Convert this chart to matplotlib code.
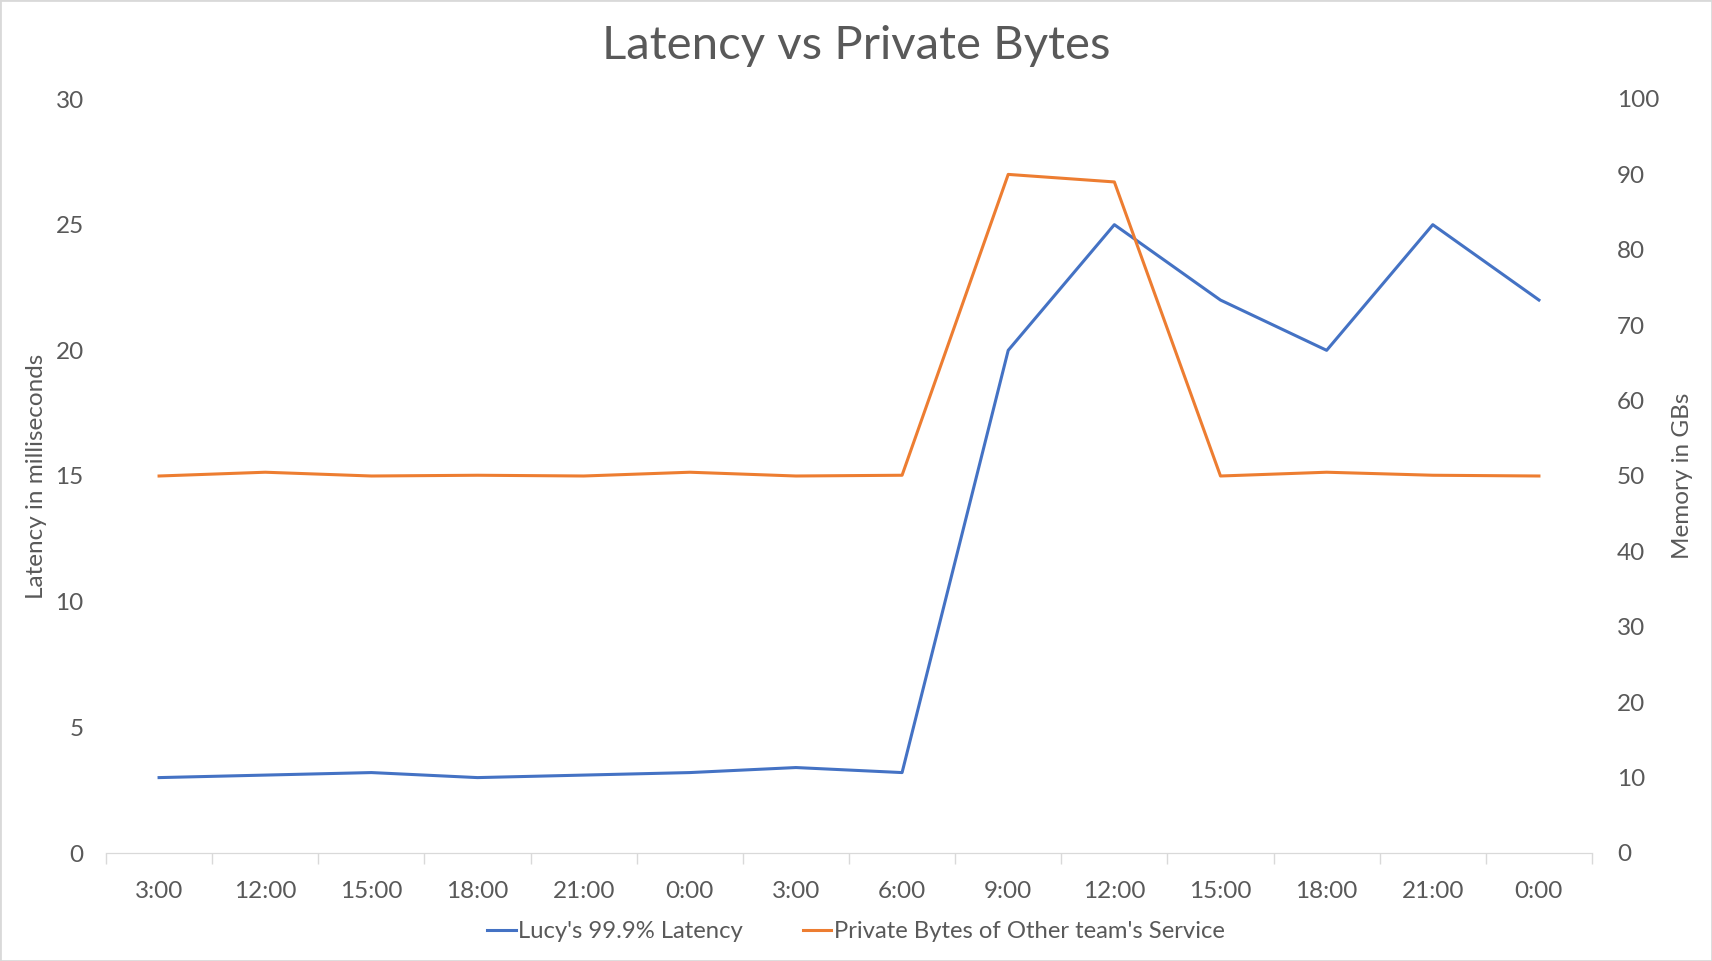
import matplotlib.pyplot as plt
import numpy as np

plt.rcParams['font.family'] = ['Lato', 'DejaVu Sans']

# Data
times = ["3:00", "12:00", "15:00", "18:00", "21:00", "0:00", "3:00",
         "6:00", "9:00", "12:00", "15:00", "18:00", "21:00", "0:00"]
latency = [3.0, 3.1, 3.2, 3.0, 3.1, 3.2, 3.4, 3.2, 20, 25, 22, 20, 25, 22]
memory = [50, 50.5, 50, 50.1, 50, 50.5, 50, 50.1, 90, 89, 50, 50.5, 50.1, 50]

blue = "#4472C4"
orange = "#ED7D31"
text_col = "#595959"
axis_col = "#D9D9D9"

fig = plt.figure(figsize=(17.12, 9.61), dpi=100)
ax = fig.add_axes([106 / 1712, 1 - 853 / 961, (1592 - 106) / 1712, (853 - 99) / 961])
ax2 = ax.twinx()

x = np.arange(len(times))
ax.plot(x, latency, color=blue, lw=2.2, label="Lucy's 99.9% Latency")
ax2.plot(x, memory, color=orange, lw=2.2, label="Private Bytes of Other team's Service")

ax.set_xlim(-0.5, len(times) - 0.5)
ax.set_ylim(0, 30)
ax2.set_ylim(0, 100)
ax.set_yticks(np.arange(0, 31, 5))
ax2.set_yticks(np.arange(0, 101, 10))

ax.set_xticks(x)
ax.set_xticklabels(times)
ax.set_xticks(np.arange(-0.5, len(times), 1), minor=True)
ax.tick_params(axis="x", which="major", length=0, pad=20, labelsize=17.5, labelcolor=text_col)
ax.tick_params(axis="x", which="minor", length=8, color=axis_col, width=1)
ax.tick_params(axis="y", length=0, pad=16, labelsize=17.5, labelcolor=text_col)
ax2.tick_params(axis="y", length=0, pad=18, labelsize=17.5, labelcolor=text_col)

for a in (ax, ax2):
    for s in ("top", "left", "right"):
        a.spines[s].set_visible(False)
    a.spines["bottom"].set_color(axis_col)

ax.set_ylabel("Latency in milliseconds", fontsize=17.5, color=text_col, labelpad=6)
ax2.set_ylabel("Memory in GBs", fontsize=17.5, color=text_col, labelpad=9)

fig.text(0.5, 1 - 46 / 961, "Latency vs Private Bytes", ha="center", va="center",
         fontsize=34, color=text_col)

h1, l1 = ax.get_legend_handles_labels()
h2, l2 = ax2.get_legend_handles_labels()
fig.legend(h1 + h2, l1 + l2, loc="center", bbox_to_anchor=(0.5, 1 - 932 / 961),
           ncol=2, frameon=False, fontsize=17.2, labelcolor=text_col,
           handlelength=1.2, handletextpad=0.1, columnspacing=2.5)

# light border around the chart
fig.patches.append(plt.Rectangle((0, 0), 1, 1, transform=fig.transFigure,
                                 fill=False, edgecolor=axis_col, lw=2))

fig.savefig("out.png", dpi=100)
